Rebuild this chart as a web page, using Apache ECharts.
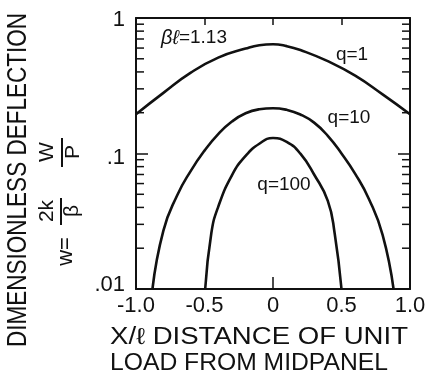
<!DOCTYPE html>
<html><head><meta charset="utf-8">
<script src="https://cdn.jsdelivr.net/npm/echarts@6/dist/echarts.min.js"></script>
<style>html,body{margin:0;padding:0;background:#fff}#c{width:426px;height:379px}</style>
</head><body><div id="c"></div>
<script>
// ---- data ----
const xTicks = [-1, -0.5, 0, 0.5, 1];
const xTickLabels = ['-1.0', '-0.5', '0', '0.5', '1.0'];
const yTicks = [0.01, 0.1, 1];
const yTickLabels = ['.01', '.1', '1'];
const yMinorTicks = [0.02, 0.03, 0.04, 0.05, 0.06, 0.07, 0.08, 0.09, 0.2, 0.3, 0.4, 0.5, 0.6, 0.7, 0.8, 0.9];

const q1X = [-1, -0.8, -0.6, -0.4, -0.2, -0.1, 0, 0.1, 0.2, 0.4, 0.6, 0.8, 1];
const q1Y = [0.195, 0.28, 0.395, 0.51, 0.595, 0.63, 0.64, 0.62, 0.58, 0.48, 0.375, 0.273, 0.195];
const q10X = [-0.88, -0.8, -0.7, -0.6, -0.5, -0.4, -0.3, -0.2, -0.1, 0, 0.1, 0.2, 0.3, 0.4, 0.5, 0.6, 0.7, 0.8, 0.88];
const q10Y = [0.01, 0.027, 0.049, 0.0745, 0.105, 0.139, 0.172, 0.198, 0.212, 0.216, 0.210, 0.194, 0.169, 0.135, 0.100, 0.0708, 0.0462, 0.0251, 0.01];
const q100X = [-0.495, -0.45, -0.4, -0.3, -0.2, -0.1, 0, 0.1, 0.2, 0.3, 0.4, 0.45, 0.5];
const q100Y = [0.01, 0.0259, 0.0404, 0.069, 0.096, 0.118, 0.130, 0.122, 0.0997, 0.070, 0.0447, 0.0258, 0.01];

const seriesNames = ['q=1', 'q=10', 'q=100'];
const yTitle = 'DIMENSIONLESS DEFLECTION';
const xTitle1 = 'X/ℓ DISTANCE OF UNIT';
const xTitle2 = 'LOAD FROM MIDPANEL';

// ---- chart ----
const ink = '#111';
const FONT = '"Liberation Sans", Arial, sans-serif';
const zip = (xs, ys) => xs.map((x, i) => [x, ys[i]]);
const mctx = document.createElement('canvas').getContext('2d');
function fit(text, size, target) {
  mctx.font = size + 'px ' + FONT;
  return target / mctx.measureText(text).width;
}
function xLabel(v) {
  const i = xTicks.findIndex(t => Math.abs(t - v) < 1e-6);
  return i >= 0 ? xTickLabels[i] : '';
}
function yLabel(v) {
  const k = Math.round(Math.log10(v));
  const i = yTicks.findIndex(t => Math.round(Math.log10(t)) === k);
  const key = ['a', 'b', 'c'][i];
  return '{' + key + '|' + yTickLabels[i] + '}';
}
const lblStyle = { fontSize: 22, fontFamily: FONT, color: ink };
function txt(text, x, y, size, opts) {
  return Object.assign({
    type: 'text', x: x, y: y,
    style: { text: text, fontSize: size, fontFamily: FONT, fill: ink,
      align: 'center', verticalAlign: 'middle', textAlign: 'center', textVerticalAlign: 'middle' }
  }, opts || {});
}
function ltxt(text, x, y, size, target) {
  return {
    type: 'text', x: x, y: y, scaleX: fit(text, size, target),
    style: { text: text, fontSize: size, fontFamily: FONT, fill: ink,
      align: 'left', verticalAlign: 'middle', textAlign: 'left', textVerticalAlign: 'middle' }
  };
}

const axisLine = { show: true, onZero: false, lineStyle: { color: ink, width: 2 } };
const chart = echarts.init(document.getElementById('c'), null, { renderer: 'canvas' });
const lineSeries = (name, data) => ({
  name: name, type: 'line', data: data, showSymbol: false, symbol: 'none',
  smooth: 0.5, clip: true,
  lineStyle: { color: ink, width: 2.6 }, xAxisIndex: 0, yAxisIndex: 0, z: 3
});

chart.setOption({
  backgroundColor: '#fff',
  animation: false,
  grid: { left: 136, right: 16, top: 18, bottom: 90, outerBoundsMode: 'none' },
  xAxis: [
    { type: 'value', min: -1, max: 1, interval: 0.5, position: 'bottom', axisLine: axisLine,
      axisTick: { show: false }, splitLine: { show: false },
      axisLabel: Object.assign({ margin: 6, formatter: xLabel, showMinLabel: true, showMaxLabel: true }, lblStyle) },
    { type: 'value', min: -1, max: 1, interval: 0.5, position: 'top', axisLine: axisLine,
      axisTick: { show: true, inside: true, length: 7, lineStyle: { color: ink, width: 1.5 } },
      axisLabel: { show: false }, splitLine: { show: false } },
    { type: 'value', min: -1, max: 1, interval: 1, position: 'bottom', axisLine: { show: false, onZero: false },
      axisTick: { show: true, inside: true, length: 12, lineStyle: { color: ink, width: 1.5 } },
      axisLabel: { show: false }, splitLine: { show: false } }
  ],
  yAxis: [
    { type: 'log', logBase: 10, min: 0.01, max: 1, position: 'left', axisLine: axisLine,
      axisTick: { show: true, inside: true, length: 12, lineStyle: { color: ink, width: 1.5 } },
      splitLine: { show: false },
      axisLabel: Object.assign({ margin: 11, formatter: yLabel, showMinLabel: true, showMaxLabel: true,
        rich: {
          a: Object.assign({ padding: [0, 0, 8, 0] }, lblStyle),
          b: Object.assign({ padding: [8, 0, 0, 0] }, lblStyle),
          c: Object.assign({ padding: [4, 0, 0, 0] }, lblStyle)
        } }, lblStyle) },
    { type: 'log', logBase: 10, min: 0.01, max: 1, position: 'right', axisLine: axisLine,
      axisTick: { show: true, inside: true, length: 12, lineStyle: { color: ink, width: 1.5 } },
      splitLine: { show: false }, axisLabel: { show: false } }
  ],
  series: [
    lineSeries(seriesNames[0], zip(q1X, q1Y)),
    lineSeries(seriesNames[1], zip(q10X, q10Y)),
    lineSeries(seriesNames[2], zip(q100X, q100Y)),
    {
      type: 'custom', xAxisIndex: 0, yAxisIndex: 0, silent: true, clip: false,
      data: yMinorTicks.map(v => [v]), encode: { y: 0 },
      renderItem: function (params, api) {
        const v = api.value(0);
        const pL = api.coord([-1, v]);
        const pR = api.coord([1, v]);
        const st = { stroke: ink, lineWidth: 1.5 };
        return { type: 'group', children: [
          { type: 'line', shape: { x1: pL[0], y1: pL[1], x2: pL[0] + 8, y2: pL[1] }, style: st },
          { type: 'line', shape: { x1: pR[0], y1: pR[1], x2: pR[0] - 8, y2: pR[1] }, style: st }
        ] };
      }
    }
  ],
  graphic: [
    { type: 'group', x: 0, y: 379, rotation: Math.PI / 2, children: [
      txt(yTitle, 199, 18, 28, { scaleX: fit(yTitle, 28, 334) }),
      txt('w=', 127.5, 66, 22),
      txt('2k', 168, 47.5, 21),
      { type: 'line', shape: { x1: 154, y1: 61, x2: 181, y2: 61 }, style: { stroke: ink, lineWidth: 2 } },
      txt('β', 168, 72, 21),
      txt('W', 227, 47.5, 21),
      { type: 'line', shape: { x1: 212, y1: 62, x2: 241, y2: 62 }, style: { stroke: ink, lineWidth: 2 } },
      txt('P', 227, 73, 21)
    ] },
    ltxt(xTitle1, 110, 338, 23, 298),
    ltxt(xTitle2, 110, 364, 23, 278),
    { type: 'text', x: 194, y: 38, style: {
        text: '{i|βℓ}{n|=1.13}', align: 'center', verticalAlign: 'middle', textAlign: 'center', textVerticalAlign: 'middle',
        rich: { i: { fontSize: 20, fontStyle: 'italic', fontFamily: FONT, fill: ink, color: ink },
                n: { fontSize: 19, fontFamily: FONT, fill: ink, color: ink } } } },
    txt(seriesNames[0], 352, 55, 19),
    txt(seriesNames[1], 349, 118, 19),
    txt(seriesNames[2], 284, 185, 19)
  ]
});
</script></body></html>
